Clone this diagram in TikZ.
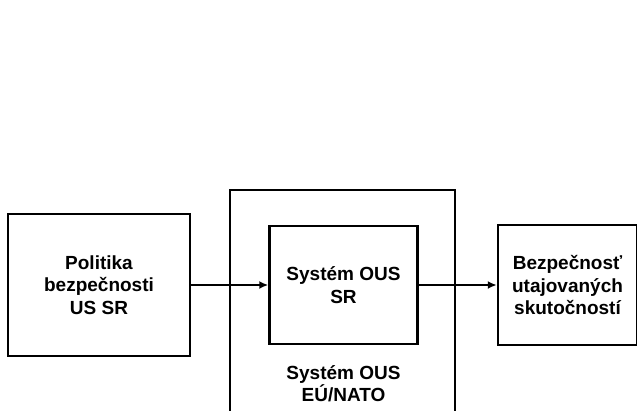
\documentclass[tikz,border=0pt]{standalone}
\usepackage{fontspec}
\setmainfont{Liberation Sans}
\usetikzlibrary{arrows.meta,positioning}
\tikzset{
  basic/.style  = {draw, line width=2.5pt, rectangle, align=center, inner sep=0pt,
                   font=\fontsize{19}{22.5}\selectfont\bfseries},
  outerbox/.style = {draw, line width=2.5pt},
  caption/.style = {align=center, inner sep=0pt,
                   font=\fontsize{19}{22.5}\selectfont\bfseries}
}

\begin{document}
\begin{tikzpicture}[x=1pt, y=-1pt, >={Latex[length=9pt,width=8pt]}]

\clip (0,0) rectangle (637,410);

% vstupna politika
\node[basic, minimum width=182pt, minimum height=142pt] (politika) at (99,285)
  {Politika\\bezpečnosti\\US SR};

% system OUS SR a vonkajsi ramec
\node[basic, minimum width=148pt, minimum height=118pt, right=77pt of politika] (system)
  {Systém OUS\\SR};
\node[caption, below=20pt of system] (eunato) {Systém OUS\\EÚ/NATO};

\coordinate (outer bl) at (230,415);
\coordinate (outer tr) at (455,190);
\coordinate (outer br) at (455,415);
\draw[outerbox] (outer bl) |- (outer tr) -- (outer br);

% vystup
\node[basic, minimum width=139pt, minimum height=120pt, right=78pt of system] (bezpecnost)
  {Bezpečnosť\\utajovaných\\skutočností};

\draw[->, line width=2.5pt] (politika) -- (system);
\draw[->, line width=2.5pt] (system) -- (bezpecnost);
\end{tikzpicture}
\end{document}
